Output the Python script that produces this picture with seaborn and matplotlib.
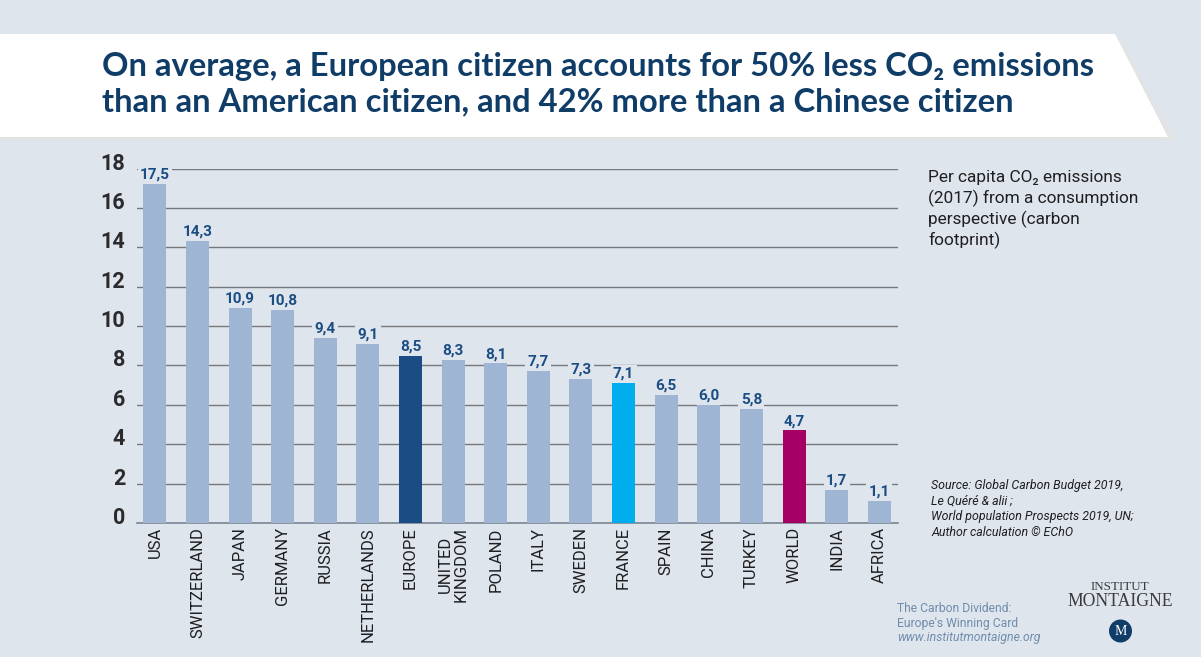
import matplotlib
matplotlib.use("Agg")
import matplotlib.pyplot as plt
from matplotlib.patches import Polygon, Ellipse
from matplotlib.transforms import ScaledTranslation
import seaborn as sns
import pandas as pd

categories = ["USA", "SWITZERLAND", "JAPAN", "GERMANY", "RUSSIA", "NETHERLANDS", "EUROPE",
              "UNITED\nKINGDOM", "POLAND", "ITALY", "SWEDEN", "FRANCE", "SPAIN", "CHINA",
              "TURKEY", "WORLD", "INDIA", "AFRICA"]
bar_heights = [17.2, 14.3, 10.9, 10.8, 9.4, 9.1, 8.5, 8.3, 8.1, 7.7, 7.3, 7.1, 6.5, 6.0, 5.8, 4.7, 1.7, 1.1]
value_labels = ["17,5", "14,3", "10,9", "10,8", "9,4", "9,1", "8,5", "8,3", "8,1", "7,7", "7,3", "7,1",
                "6,5", "6,0", "5,8", "4,7", "1,7", "1,1"]
highlight = {"EUROPE": "#1b4d84", "FRANCE": "#00aeef", "WORLD": "#a50064"}
BASE = "#9fb5d4"
BG = "#dfe5ed"
NAVY = "#0f3d68"
W, H = 1201, 657

sns.set_theme(style="white")
plt.rcParams["font.family"] = ["Roboto", "DejaVu Sans"]

fig = plt.figure(figsize=(W / 100, H / 100), dpi=100, facecolor=BG)
ax = fig.add_axes([137 / W, 1 - 523 / H, (898 - 137) / W, (523 - 168.5) / H], facecolor=BG)

df = pd.DataFrame({"country": categories, "value": bar_heights})
palette = [highlight.get(c, BASE) for c in categories]
sns.barplot(data=df, x="country", y="value", hue="country", palette=palette, dodge=False,
            legend=False, width=0.54, saturation=1, linewidth=0, ax=ax, zorder=3)

ax.set_xlim(-0.42, 17.44)
ax.set_ylim(0, 18)
ax.set_xlabel("")
ax.set_ylabel("")
for s in ["top", "right", "left"]:
    ax.spines[s].set_visible(False)
ax.spines["bottom"].set_color("#7c8794")
ax.spines["bottom"].set_linewidth(1.2)
ax.set_yticks(range(0, 19, 2))
ax.grid(axis="y", color="#77797c", linewidth=1.0, zorder=1)
ax.grid(axis="x", visible=False)
ax.set_axisbelow(True)
ax.tick_params(axis="y", length=0, pad=8.5, labelsize=15.5, labelcolor="#2b2a2c")
for t in ax.get_yticklabels():
    t.set_fontweight("bold")
    t.set_transform(t.get_transform() + ScaledTranslation(0, 7.5 / 100, fig.dpi_scale_trans))
ax.tick_params(axis="x", length=0, pad=3)
ax.set_xticks(range(len(categories)))
ax.set_xticklabels(categories, rotation=90, ha="center", va="top", fontsize=12,
                   color="#1f1f21", linespacing=1.05)

for i, (h, lab) in enumerate(zip(bar_heights, value_labels)):
    ax.annotate(lab, (i, h), xytext=(0, 1.7), textcoords="offset points", ha="center", va="bottom",
                fontsize=11, fontweight="bold", color="#1b4d84", zorder=4,
                bbox=dict(facecolor=BG, edgecolor="none", pad=1.6))

def px(x, y):
    return (x / W, 1 - y / H)

shadow = Polygon([px(0, 40), px(1120, 40), px(1175, 140), px(0, 140)], transform=fig.transFigure,
                 facecolor="#e3e3e4", edgecolor="none", zorder=0)
banner = Polygon([px(0, 34), px(1115, 34), px(1168, 137), px(0, 137)], transform=fig.transFigure,
                 facecolor="white", edgecolor="none", zorder=0.5)
fig.add_artist(shadow)
fig.add_artist(banner)

title_font = dict(family=["Lato", "DejaVu Sans"], fontsize=23.6, fontweight="bold", color=NAVY, va="baseline", ha="left")
fig.text(*px(102, 76), "On average, a European citizen accounts for 50% less CO₂ emissions", **title_font)
fig.text(*px(102, 111), "than an American citizen, and 42% more than a Chinese citizen", **title_font)

note_lines = ["Per capita CO₂ emissions", "(2017) from a consumption", "perspective (carbon", "footprint)"]
for k, line in enumerate(note_lines):
    fig.text(*px(928, 182 + 21 * k), line, fontsize=12.4, color="#1f1f21", va="baseline", ha="left")

source = "Source: Global Carbon Budget 2019,\nLe Quéré & alii ;\nWorld population Prospects 2019, UN;\nAuthor calculation © EChO"
fig.text(*px(931, 509), source, fontsize=8.9, style="italic", color="#1f1f21", va="center", ha="left", linespacing=1.25)

fig.text(*px(897, 609), "The Carbon Dividend:", fontsize=8.7, color="#6f8dac", va="center", ha="left")
fig.text(*px(897, 624), "Europe's Winning Card", fontsize=8.7, color="#6f8dac", va="center", ha="left")
fig.text(*px(897, 638), "www.institutmontaigne.org", fontsize=8.8, style="italic", color="#6f8dac", va="center", ha="left")

fig.text(*px(1120, 587), "INSTITUT", family="Liberation Serif", fontsize=9.4, color="#3a3a3c", va="center", ha="center")
fig.text(*px(1120.5, 602), "MONTAIGNE", family="Liberation Serif", fontsize=12.7, color="#3a3a3c", va="center", ha="center")
logo = Ellipse(px(1120.5, 631), 23 / W, 23 / H, transform=fig.transFigure, facecolor=NAVY, edgecolor="none")
fig.add_artist(logo)
fig.text(*px(1120.5, 631.5), "M", family="Liberation Serif", fontsize=10, color="white", va="center", ha="center")

fig.savefig("out.png", dpi=100, facecolor=BG)
